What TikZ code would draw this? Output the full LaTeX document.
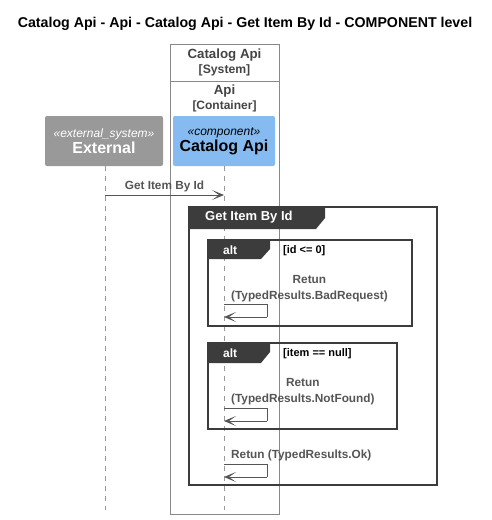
\documentclass[tikz,border=0pt]{standalone}
\usepackage{fontspec}
\setmainfont{Liberation Sans}
\usepackage{xcolor}
\usetikzlibrary{arrows.meta,positioning,calc}
\definecolor{ext}{HTML}{999999}
\definecolor{comp}{HTML}{85BBF0}
\definecolor{txt}{HTML}{444444}
\definecolor{msg}{HTML}{555555}
\definecolor{tab}{HTML}{3C3C3C}
\definecolor{life}{HTML}{999999}
\definecolor{bound}{HTML}{888888}

\tikzset{
  partbox/.style={rounded corners=2pt, minimum height=50pt, align=center, inner sep=0pt},
  lifeline/.style={draw=life, dash pattern=on 5pt off 5pt},
  msgline/.style={draw=msg, line width=0.9pt, -{Stealth[length=12pt,width=10pt,inset=7pt]}},
  msgtext/.style={text=msg, font=\bfseries\fontsize{11.8}{16}\selectfont, align=center, inner sep=0pt},
  frameline/.style={draw=tab, line width=1.3pt},
  tabtext/.style={text=white, font=\bfseries\fontsize{13}{15}\selectfont, inner sep=0pt, anchor=west},
  condtext/.style={text=black, font=\bfseries\fontsize{11}{13}\selectfont, inner sep=0pt, anchor=west}
}

\begin{document}
\begin{tikzpicture}[x=1pt, y=-1pt]
\useasboundingbox (0,0) rectangle (491,520);

% title
\node[font=\bfseries\fontsize{14.2}{16}\selectfont, inner sep=0pt] (title) at (245,24) {Catalog Api - Api - Catalog Api - Get Item By Id - COMPONENT level};

% system boundary with the container inside
\draw[bound] (170,44) rectangle (279,514);
\draw[bound] (170,81) -- (279,81);
\node[text=txt, align=center, font=\bfseries\fontsize{13.3}{16}\selectfont, inner sep=0pt] (sys) at (224.5,62) {Catalog Api\\[-1pt]{\fontsize{12.2}{14}\selectfont [System]}};
\node[text=txt, align=center, font=\bfseries\fontsize{13.3}{16}\selectfont, inner sep=0pt] (ctr) at (224.5,98) {Api\\[-1pt]{\fontsize{12}{14}\selectfont [Container]}};

% participants
\node[partbox, fill=ext, text=white, minimum width=118pt] (ext) at (104,141)
  {{\itshape\fontsize{12}{13}\selectfont «external\_system»}\\[1pt]{\bfseries\fontsize{16}{18}\selectfont External}};
\node[partbox, fill=comp, text=black, minimum width=102pt] (cat) at (224,141)
  {{\itshape\fontsize{12}{13}\selectfont «component»}\\[1pt]{\bfseries\fontsize{16}{18}\selectfont Catalog Api}};

% lifelines
\coordinate (extend) at (105,510);
\coordinate (catend) at (224,510);
\draw[lifeline] (ext.south -| extend) -- (extend);
\draw[lifeline] (cat.south) -- (catend);

% incoming call
\coordinate (callfrom) at (105,195);
\coordinate (callto) at (224,195);
\draw[msgline] (callfrom) -- node[msgtext, above=3pt] (calltext) {Get Item By Id} (callto);

% group frame
\draw[frameline] (189,207) rectangle (437,485);
\fill[tab] (189,207) -- (325,207) -- (325,218) -- (316,229) -- (189,229) -- cycle;
\node[tabtext] (grouptext) at (205,217.5) {Get Item By Id};

% first alt
\draw[frameline] (208,240) rectangle (412,326);
\fill[tab] (208,240) -- (270,240) -- (270,249) -- (261,259) -- (208,259) -- cycle;
\node[tabtext, font=\bfseries\fontsize{12}{14}\selectfont] (alta) at (223,250) {alt};
\node[condtext] (conda) at (283,251) {[id <= 0]};
\node[msgtext, anchor=south west] (reta) at (231,302) {Retun\\(TypedResults.BadRequest)};
\coordinate (retafrom) at (224,304);
\coordinate (retato) at (224,317);
\draw[msgline, -] (retafrom) -- ++(43,0) coordinate (retaturn) -- ++(0,13);
\draw[msgline] (retaturn |- retato) -- (retato);

% second alt
\draw[frameline] (208,343) rectangle (397,429);
\fill[tab] (208,343) -- (270,343) -- (270,352) -- (261,363) -- (208,363) -- cycle;
\node[tabtext, font=\bfseries\fontsize{12}{14}\selectfont] (altb) at (223,353) {alt};
\node[condtext] (condb) at (283,354) {[item == null]};
\node[msgtext, anchor=south west] (retb) at (231,405) {Retun\\(TypedResults.NotFound)};
\coordinate (retbfrom) at (224,408);
\coordinate (retbto) at (224,421);
\draw[msgline, -] (retbfrom) -- ++(43,0) coordinate (retbturn) -- ++(0,13);
\draw[msgline] (retbturn |- retbto) -- (retbto);

% plain return
\node[msgtext, anchor=south west] (retc) at (231,461) {Retun (TypedResults.Ok)};
\coordinate (retcfrom) at (224,464);
\coordinate (retcto) at (224,477);
\draw[msgline, -] (retcfrom) -- ++(43,0) coordinate (retcturn) -- ++(0,13);
\draw[msgline] (retcturn |- retcto) -- (retcto);

\end{tikzpicture}
\end{document}
